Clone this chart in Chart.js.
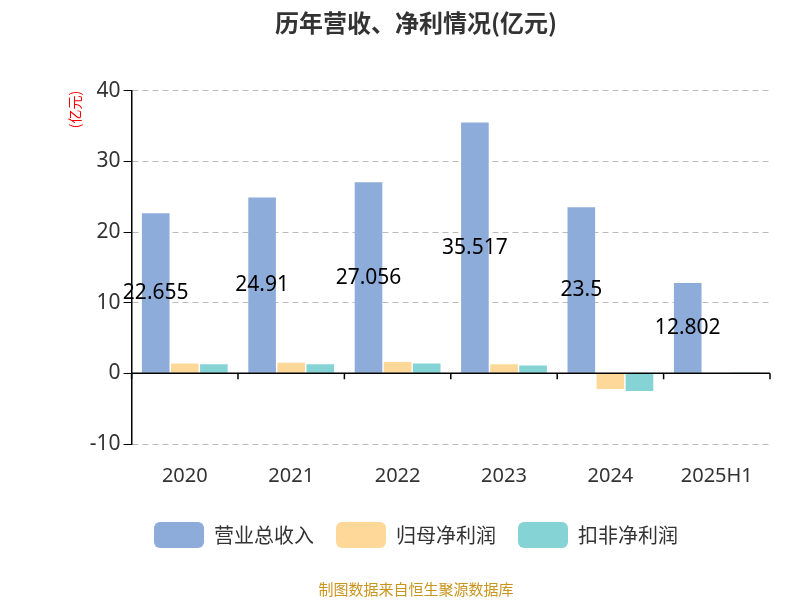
<!DOCTYPE html>
<html><head><meta charset="utf-8">
<script src="https://cdn.jsdelivr.net/npm/chart.js@4"></script>
<style>body{margin:0;background:#fff}#wrap{width:800px;height:600px}</style>
</head><body><div id="wrap"><canvas id="c"></canvas></div>
<script>
var years = ['2020', '2021', '2022', '2023', '2024', '2025H1']
var revenue = [22.655, 24.91, 27.056, 35.517, 23.5, 12.802]
var netProfit = [1.4, 1.5, 1.6, 1.3, -2.2, 0.1]
var deductedProfit = [1.3, 1.3, 1.4, 1.1, -2.5, 0.05]
var yTicks = [-10, 0, 10, 20, 30, 40]

var FONT = '"Noto Sans CJK SC", "Noto Sans", sans-serif'
var NUMFONT = '"Noto Sans", "Noto Sans CJK SC", sans-serif'

// revenue labels drawn in the middle of each bar, zero line with ticks
var extras = {
  id: 'extras',
  afterDatasetsDraw: function (chart) {
    var ctx = chart.ctx
    var meta = chart.getDatasetMeta(0)
    ctx.save()
    ctx.fillStyle = '#000'
    ctx.font = '21px ' + NUMFONT
    ctx.textAlign = 'center'
    ctx.textBaseline = 'middle'
    meta.data.forEach(function (bar, i) {
      ctx.fillText(String(revenue[i]), bar.x, (bar.y + bar.base) / 2)
    })
    var y0 = chart.scales.y.getPixelForValue(0)
    var area = chart.chartArea
    ctx.strokeStyle = '#000'
    ctx.lineWidth = 1.5
    ctx.beginPath()
    ctx.moveTo(area.left, y0)
    ctx.lineTo(area.right, y0)
    for (var k = 0; k <= years.length; k++) {
      var px = area.left + (area.right - area.left) * k / years.length
      ctx.moveTo(px, y0)
      ctx.lineTo(px, y0 + 6)
    }
    ctx.stroke()
    ctx.restore()
  }
}

new Chart(document.getElementById('c'), {
  type: 'bar',
  data: {
    labels: years,
    datasets: [
      { label: '营业总收入', data: revenue, backgroundColor: '#8eacd9' },
      { label: '归母净利润', data: netProfit, backgroundColor: '#fdd899' },
      { label: '扣非净利润', data: deductedProfit, backgroundColor: '#86d3d6' }
    ]
  },
  options: {
    responsive: true,
    maintainAspectRatio: false,
    animation: false,
    layout: { padding: { left: 62, right: 30, top: 0, bottom: 0 } },
    datasets: { bar: { categoryPercentage: 0.82, barPercentage: 0.95 } },
    plugins: {
      title: { display: true, text: '历年营收、净利情况(亿元)', color: '#333',
        font: { family: FONT, size: 24, weight: 'bold' }, padding: { top: 8, bottom: 54 } },
      legend: { position: 'bottom',
        labels: { color: '#333', font: { family: FONT, size: 20 }, boxWidth: 50, boxHeight: 26,
          useBorderRadius: true, borderRadius: 6, padding: 22 } },
      subtitle: { display: true, position: 'bottom', text: '制图数据来自恒生聚源数据库', color: '#c9951f',
        font: { family: FONT, size: 15 }, padding: { top: 22, bottom: 2 } },
      tooltip: { enabled: false }
    },
    scales: {
      x: {
        grid: { display: false },
        border: { display: false },
        ticks: { color: '#333', padding: 12, font: { family: NUMFONT, size: 20 } }
      },
      y: {
        min: -10, max: 40,
        afterBuildTicks: function (s) { s.ticks = yTicks.map(function (v) { return { value: v } }) },
        grid: { color: '#bbb', drawTicks: true, tickLength: 8, tickColor: '#000' },
        border: { display: true, color: '#000', width: 1.5, dash: [6, 4] },
        ticks: { color: '#333', font: { family: NUMFONT, size: 21 } },
        title: { display: true, text: '(亿元)', color: 'red', align: 'end', font: { family: FONT, size: 14 } }
      }
    }
  },
  plugins: [extras]
})
</script></body></html>
